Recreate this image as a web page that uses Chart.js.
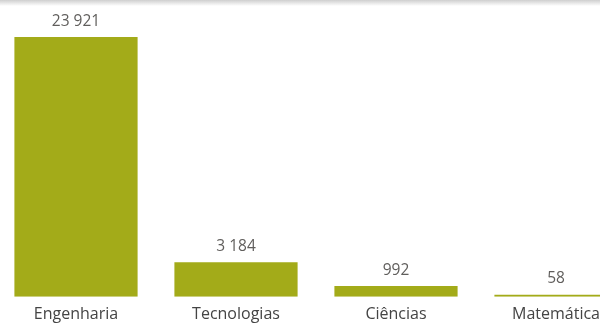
<!DOCTYPE html>
<html>
<head>
<meta charset="utf-8">
<script src="https://cdn.jsdelivr.net/npm/chart.js@4"></script>
<style>
  html, body { margin: 0; padding: 0; background: #fff; overflow: hidden; }
  body { width: 600px; height: 324px; position: relative; }
  #shade { position: absolute; left: 0; top: 0; width: 600px; height: 6px;
           background: linear-gradient(#cfcfcf, rgba(255,255,255,0)); z-index: 2; }
  #wrap { position: absolute; left: -4px; top: 0; width: 640px; height: 324px; }
</style>
</head>
<body>
<div id="shade"></div>
<div id="wrap"><canvas id="myChart"></canvas></div>
<script>
const categories = ['Engenharia', 'Tecnologias', 'Ciências', 'Matemática'];
const values = [23921, 3184, 992, 58];
const barColor = '#a3ab19';

function fmt(n) {
    return String(n).replace(/\B(?=(\d{3})+(?!\d))/g, ' ');
}

const valueLabels = {
    id: 'valueLabels',
    afterDatasetsDraw(chart) {
        const ctx = chart.ctx;
        const meta = chart.getDatasetMeta(0);
        ctx.save();
        ctx.font = '15.5px "Open Sans"';
        ctx.fillStyle = '#605e5c';
        ctx.textAlign = 'center';
        ctx.textBaseline = 'bottom';
        meta.data.forEach((bar, i) => {
            ctx.fillText(fmt(values[i]), bar.x, bar.y - 8);
        });
        ctx.restore();
    }
};

const myChart = document.getElementById('myChart');
new Chart(myChart, {
    type: 'bar',
    data: {
        labels: categories,
        datasets: [{
            data: values,
            backgroundColor: barColor,
            barPercentage: 0.77,
            categoryPercentage: 1,
            minBarLength: 2
        }]
    },
    options: {
        responsive: true,
        maintainAspectRatio: false,
        animation: false,
        layout: { padding: 0 },
        plugins: { legend: { display: false }, tooltip: { enabled: false } },
        scales: {
            x: {
                grid: { display: false },
                border: { display: false },
                ticks: { color: '#444', font: { family: 'Open Sans', size: 16 }, padding: 0 }
            },
            y: {
                display: false,
                min: 0,
                max: 27330
            }
        }
    },
    plugins: [valueLabels]
});
</script>
</body>
</html>
